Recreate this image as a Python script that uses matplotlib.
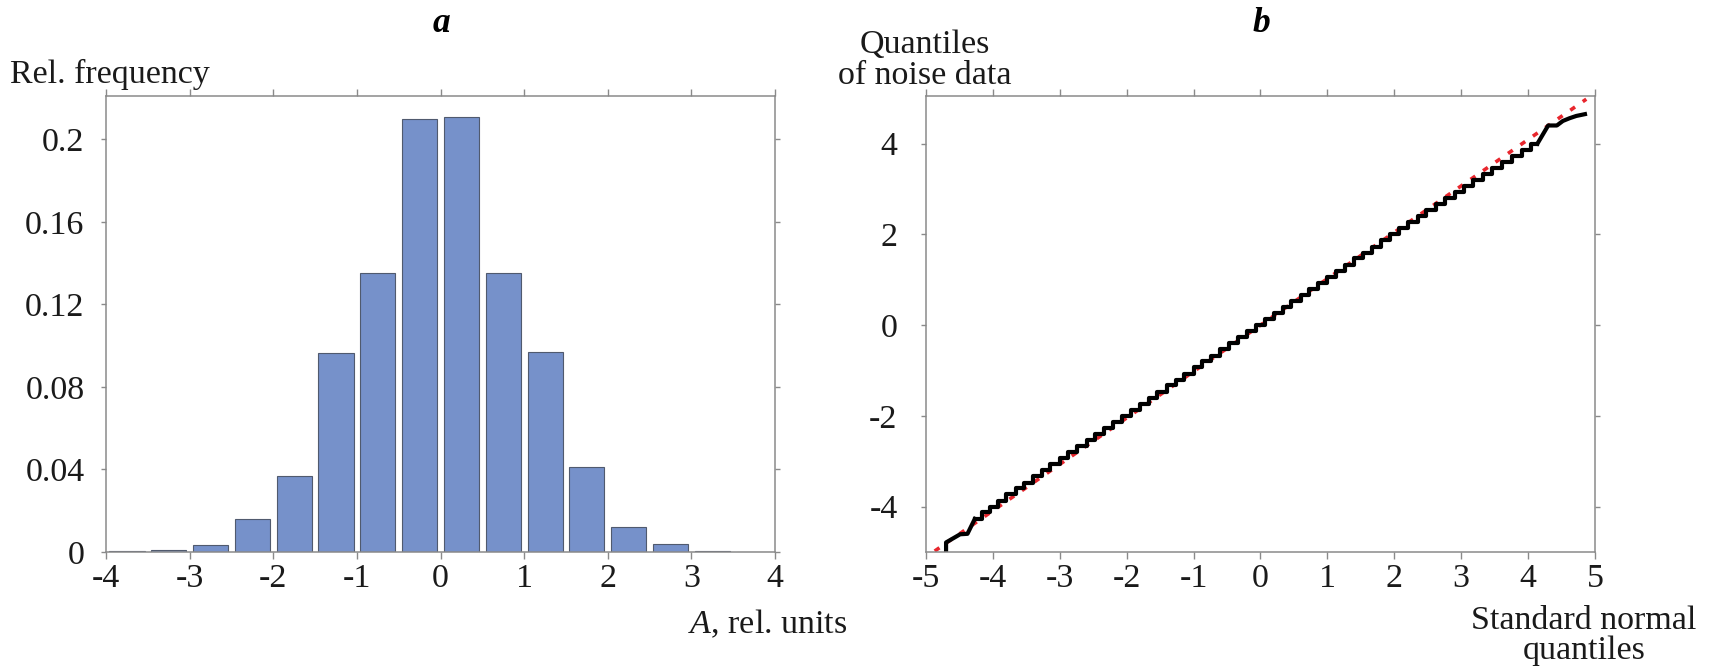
import numpy as np
import matplotlib
matplotlib.use("Agg")
from matplotlib import pyplot as plt

plt.rcParams['font.family'] = ['Liberation Serif', 'DejaVu Serif']
plt.rcParams['axes.unicode_minus'] = False
plt.rcParams['mathtext.fontset'] = 'custom'
plt.rcParams['mathtext.rm'] = 'Liberation Serif'
plt.rcParams['mathtext.it'] = 'Liberation Serif:italic'

# panel a: histogram of noise amplitude
bin_centers = [-3.75, -3.25, -2.75, -2.25, -1.75, -1.25, -0.75, -0.25,
               0.25, 0.75, 1.25, 1.75, 2.25, 2.75, 3.25, 3.75]
rel_freq = [0.0003, 0.0009, 0.0036, 0.0161, 0.0368, 0.0966, 0.1350, 0.2098,
            0.2108, 0.1353, 0.0968, 0.0413, 0.0119, 0.0037, 0.0006, 0.0002]
hist_xticks = [-4, -3, -2, -1, 0, 1, 2, 3, 4]
hist_yticks = [0, 0.04, 0.08, 0.12, 0.16, 0.2]
hist_ylabels = ['0', '0.04', '0.08', '0.12', '0.16', '0.2']

# panel b: Q-Q plot, tails read as polylines, middle is a staircase
lo_tail_x = [-4.70, -4.70, -4.49, -4.38, -4.27]
lo_tail_y = [-5.10, -4.79, -4.61, -4.60, -4.27]
step_x = [-4.27, -4.17, -4.05, -3.93, -3.80, -3.66, -3.53, -3.40, -3.27, -3.14,
          -3.00, -2.87, -2.74, -2.60, -2.47, -2.34, -2.20, -2.07, -1.94, -1.80,
          -1.67, -1.54, -1.40, -1.27, -1.14, -1.00, -0.87, -0.74, -0.60, -0.47,
          -0.34, -0.20, -0.07, 0.06, 0.20, 0.33, 0.46, 0.60, 0.73, 0.86,
          1.00, 1.13, 1.26, 1.40, 1.53, 1.67, 1.80, 1.94, 2.07, 2.21,
          2.35, 2.48, 2.62, 2.76, 2.90, 3.04, 3.18, 3.32, 3.46, 3.61,
          3.76, 3.91, 4.05, 4.14]
step_y = [-4.27, -4.13, -4.00, -3.87, -3.73, -3.60, -3.47, -3.33, -3.20, -3.07,
          -2.93, -2.80, -2.67, -2.53, -2.40, -2.27, -2.13, -2.00, -1.87, -1.73,
          -1.60, -1.47, -1.33, -1.20, -1.07, -0.93, -0.80, -0.67, -0.53, -0.40,
          -0.27, -0.13, 0.00, 0.13, 0.27, 0.40, 0.53, 0.67, 0.80, 0.93,
          1.07, 1.20, 1.33, 1.47, 1.60, 1.73, 1.87, 2.00, 2.13, 2.27,
          2.40, 2.53, 2.67, 2.80, 2.93, 3.07, 3.20, 3.33, 3.47, 3.60,
          3.73, 3.87, 4.00, 4.00]
hi_tail_x = [4.14, 4.30, 4.43, 4.52, 4.62, 4.72, 4.85]
hi_tail_y = [4.00, 4.40, 4.40, 4.50, 4.56, 4.61, 4.65]
ref_x = [-4.87, 4.87]
ref_y = [-4.98, 4.98]
qq_ticks = [-5, -4, -3, -2, -1, 0, 1, 2, 3, 4, 5]
qq_yticks = [-4, -2, 0, 2, 4]

fig = plt.figure(figsize=(17.11, 6.68), dpi=100)
ax1 = fig.add_axes([0.0620, 0.1737, 0.3910, 0.6826])
ax2 = fig.add_axes([0.5412, 0.1737, 0.3910, 0.6826])

spine_col = '#8a8a8a'
fs = 24.5

def frame(ax, ypad):
    for s in ax.spines.values():
        s.set_color(spine_col)
        s.set_linewidth(1.1)
    ax.tick_params(axis='both', which='both', direction='out', color=spine_col,
                   width=1.0, labelsize=fs, labelcolor='#1a1a1a')
    ax.tick_params(axis='x', top=True, length=5, pad=3)
    ax.tick_params(axis='y', right=True, length=3.5, pad=ypad)

ax1.bar(bin_centers, rel_freq, width=0.42, color='#7691ca',
        edgecolor='#505a6e', linewidth=0.8)
ax1.set_xlim(-4, 4)
ax1.set_ylim(0, 0.221)
ax1.set_xticks(hist_xticks)
ax1.set_xticklabels([str(t) for t in hist_xticks])
ax1.set_yticks(hist_yticks)
ax1.set_yticklabels(hist_ylabels)
frame(ax1, 12)

ax2.plot(ref_x, ref_y, color='#e8262d', lw=2.6, ls=(0, (1.6, 2.6)))
ax2.plot(lo_tail_x, lo_tail_y, color='black', lw=3)
ax2.step(step_x, step_y, where='post', color='black', lw=3)
ax2.plot(hi_tail_x, hi_tail_y, color='black', lw=3)
ax2.set_xlim(-5, 5)
ax2.set_ylim(-5, 5.05)
ax2.set_xticks(qq_ticks)
ax2.set_xticklabels([str(t) for t in qq_ticks])
ax2.set_yticks(qq_yticks)
ax2.set_yticklabels([str(t) for t in qq_yticks])
frame(ax2, 17)

W, H = 1711, 668
fig.text(441 / W, 1 - 24 / H, 'a', ha='center', va='center', fontsize=fs + 1,
         fontweight='bold', style='italic')
fig.text(1261 / W, 1 - 24 / H, 'b', ha='center', va='center', fontsize=fs + 1,
         fontweight='bold', style='italic')
fig.text(10 / W, 1 - 74 / H, 'Rel. frequency', ha='left', va='center', fontsize=fs,
         color='#1a1a1a')
fig.text(847 / W, 1 - 624 / H, '$A$, rel. units', ha='right', va='center',
         fontsize=fs, color='#1a1a1a')
fig.text(925 / W, 1 - 60 / H, 'Quantiles\nof noise data', ha='center',
         va='center', fontsize=fs, linespacing=1.0, color='#1a1a1a')
fig.text(1584 / W, 1 - 636 / H, 'Standard normal\nquantiles', ha='center',
         va='center', fontsize=fs, linespacing=1.0, color='#1a1a1a')

fig.savefig('out.png', dpi=100)
